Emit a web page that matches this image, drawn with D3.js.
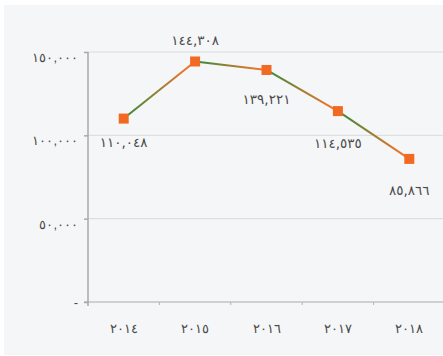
<!DOCTYPE html>
<html>
<head>
<meta charset="utf-8">
<script src="https://cdn.jsdelivr.net/npm/d3@7"></script>
<style>
  html, body { margin: 0; padding: 0; background: #ffffff; }
  svg { display: block; font-family: "DejaVu Sans", sans-serif; }
</style>
</head>
<body>
<svg id="chart" width="443" height="356"></svg>
<script>
// Yearly totals
const years = ["2014", "2015", "2016", "2017", "2018"];
const values = [110048, 144308, 139221, 114535, 85866];
const yTicks = [0, 50000, 100000, 150000];
// where each value label sits relative to its point (px, + is below)
const labelOffsets = [28, -16, 34, 37, 36];

const lineStart = "#3a8a3c";
const lineEnd = "#e8762a";
const markerColor = "#f26a22";
const textColor = "#4a4a4a";

// Arabic-Indic digits with Latin grouping comma
const arabicDigits = "٠١٢٣٤٥٦٧٨٩";
const toArabic = s => String(s).replace(/[0-9]/g, d => arabicDigits[+d]);
const fmt = v => toArabic(d3.format(",")(v));

const svg = d3.select("#chart");
const W = 443, H = 356;
const plotLeft = 88, plotRight = 445, plotTop = 52, plotBottom = 302;

svg.append("rect")
  .attr("x", 4).attr("y", 5)
  .attr("width", W - 4).attr("height", H - 6)
  .attr("fill", "#f5f6f8");

const x = d3.scaleBand().domain(years).range([plotLeft, plotRight]).padding(0);
const y = d3.scaleLinear().domain([0, 150000]).range([plotBottom, plotTop]);

// horizontal gridlines
svg.append("g")
  .selectAll("line")
  .data(yTicks.filter(t => t > 0))
  .join("line")
  .attr("x1", plotLeft).attr("x2", W)
  .attr("y1", d => y(d)).attr("y2", d => y(d))
  .attr("stroke", "#d9dadc")
  .attr("stroke-width", 1);

// y axis
const yAxis = svg.append("g")
  .attr("transform", `translate(${plotLeft},0)`)
  .call(d3.axisLeft(y).tickValues(yTicks).tickSize(4).tickPadding(6)
    .tickFormat(d => d === 0 ? "-" : fmt(d)));
yAxis.select(".domain").remove();
yAxis.selectAll(".tick line").attr("stroke", "#a9a9a9").attr("stroke-width", 1.5);
yAxis.selectAll(".tick text")
  .attr("fill", textColor)
  .attr("font-size", 13)
  .attr("dy", d => d === 0 ? "0.32em" : "0.72em");
svg.append("line")
  .attr("x1", plotLeft).attr("x2", plotLeft)
  .attr("y1", plotTop).attr("y2", plotBottom + 4)
  .attr("stroke", "#a9a9a9").attr("stroke-width", 1.5);

// x axis
const xAxis = svg.append("g")
  .attr("transform", `translate(0,${plotBottom})`)
  .call(d3.axisBottom(x).tickSize(0).tickPadding(22).tickFormat(toArabic));
xAxis.select(".domain").remove();
xAxis.selectAll(".tick text").attr("fill", textColor).attr("font-size", 13);
svg.append("line")
  .attr("x1", plotLeft - 4).attr("x2", W)
  .attr("y1", plotBottom).attr("y2", plotBottom)
  .attr("stroke", "#a9a9a9").attr("stroke-width", 1.2);
svg.append("g")
  .selectAll("line")
  .data(years.slice(1))
  .join("line")
  .attr("x1", d => x(d)).attr("x2", d => x(d))
  .attr("y1", plotBottom).attr("y2", plotBottom + 3)
  .attr("stroke", "#b5b5b5").attr("stroke-width", 1);

// line segments, each shaded green to orange
const pts = years.map((yr, i) => ({ x: x(yr) + x.bandwidth() / 2, y: y(values[i]) }));
const defs = svg.append("defs");
const segs = svg.append("g");
for (let i = 0; i < pts.length - 1; i++) {
  const a = pts[i], b = pts[i + 1];
  const g = defs.append("linearGradient")
    .attr("id", "seg" + i)
    .attr("gradientUnits", "userSpaceOnUse")
    .attr("x1", a.x).attr("y1", a.y).attr("x2", b.x).attr("y2", b.y);
  g.append("stop").attr("offset", "5%").attr("stop-color", lineStart);
  g.append("stop").attr("offset", "85%").attr("stop-color", lineEnd);
  segs.append("line")
    .attr("x1", a.x).attr("y1", a.y).attr("x2", b.x).attr("y2", b.y)
    .attr("stroke", `url(#seg${i})`)
    .attr("stroke-width", 2);
}

// markers
const m = 10;
svg.append("g")
  .selectAll("rect")
  .data(pts)
  .join("rect")
  .attr("x", d => d.x - m / 2).attr("y", d => d.y - m / 2)
  .attr("width", m).attr("height", m)
  .attr("fill", markerColor);

// value labels
svg.append("g")
  .selectAll("text")
  .data(pts)
  .join("text")
  .attr("x", d => d.x)
  .attr("y", (d, i) => d.y + labelOffsets[i])
  .attr("text-anchor", "middle")
  .attr("fill", textColor)
  .attr("font-size", 13.5)
  .text((d, i) => fmt(values[i]));
</script>
</body>
</html>
